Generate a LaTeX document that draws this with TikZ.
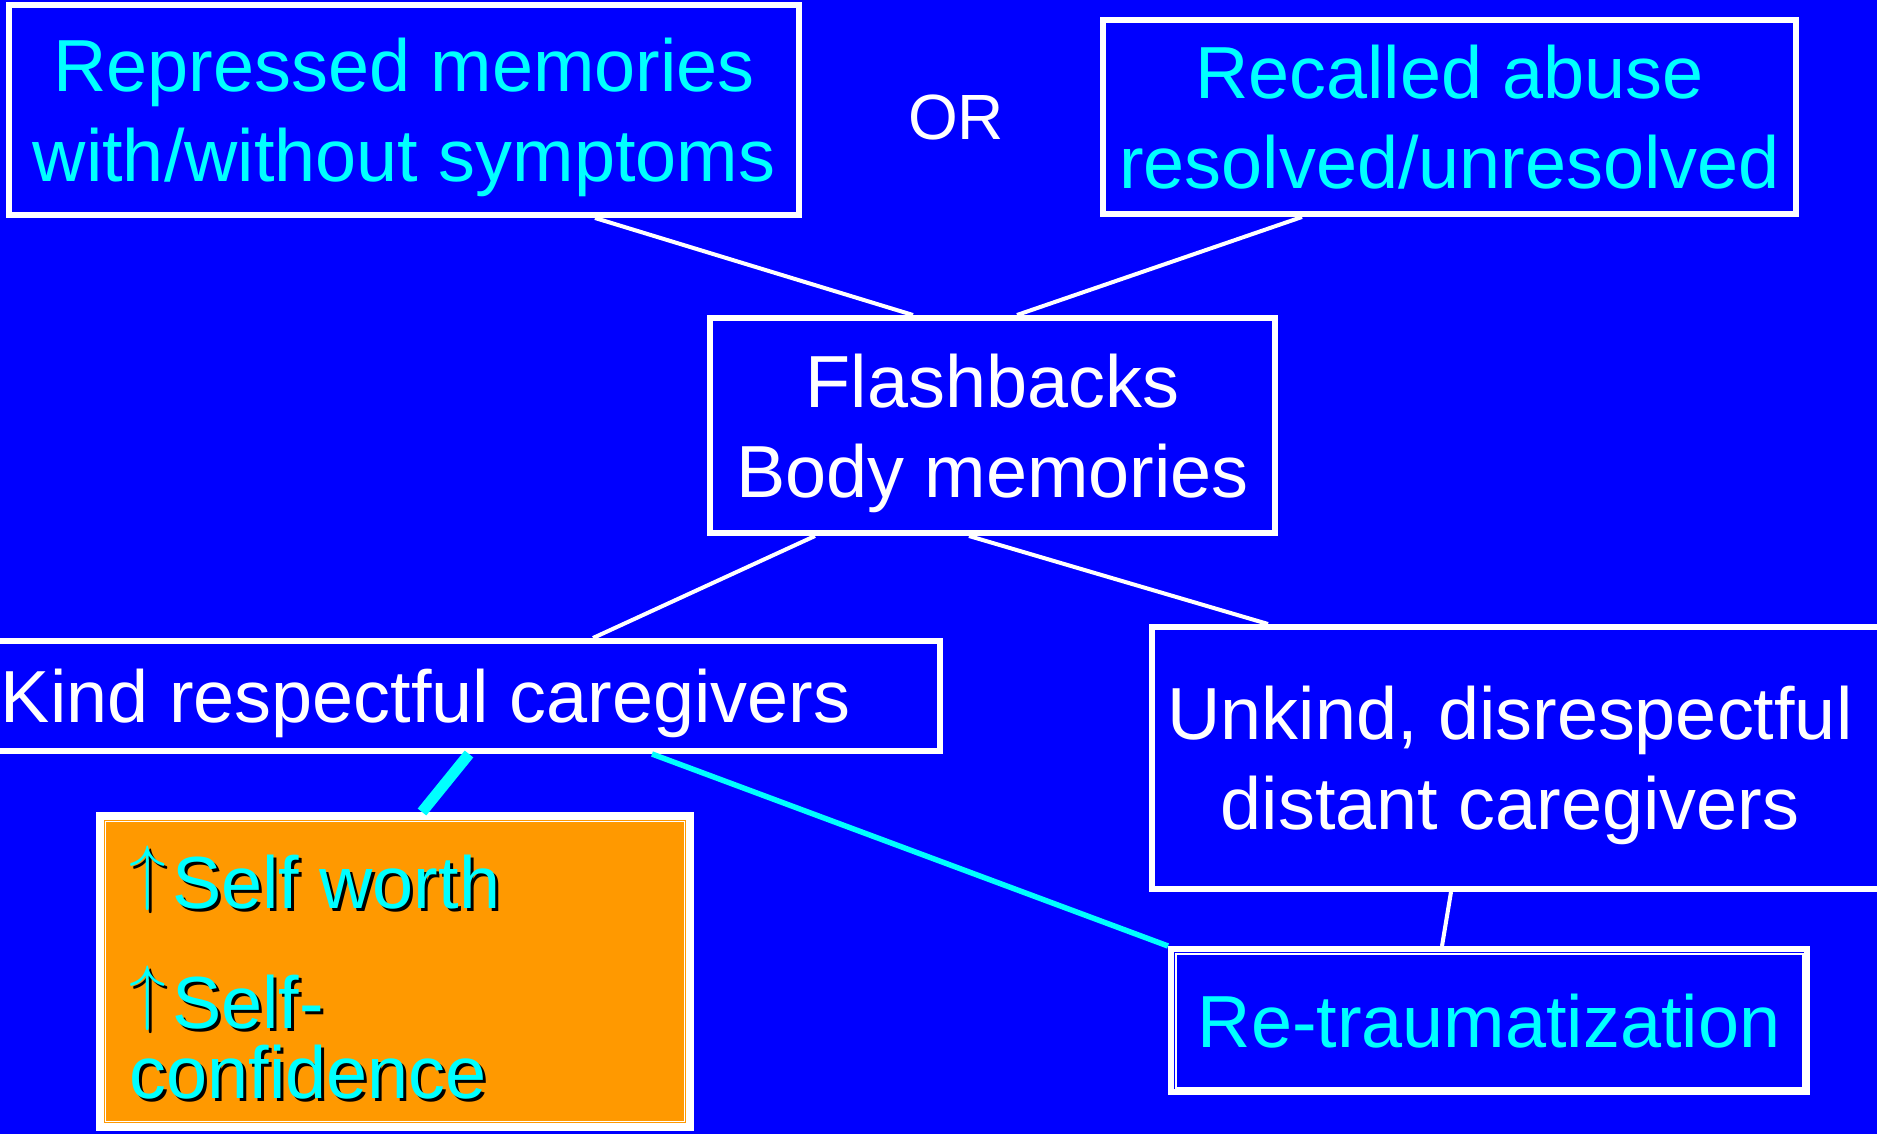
\documentclass[tikz,border=0pt]{standalone}
\usepackage{fontspec}
\setmainfont{Liberation Sans}
\usepackage{tikz}

\definecolor{slideblue}{RGB}{0,0,255}
\definecolor{slidecyan}{RGB}{0,255,255}
\definecolor{slideorange}{RGB}{255,153,0}

\tikzset{
	box/.style={draw=white, line width=0.6mm, fill=slideblue, inner sep=0pt, align=center,
		text depth=0pt, font=\fontsize{21}{25.6}\selectfont},
	link/.style={draw=white, line width=0.4mm},
	glow/.style={draw=slidecyan, line width=0.55mm},
	gain/.style={anchor=base west, inner sep=0pt, font=\fontsize{21}{25.6}\selectfont},
}

% one line of text with its drop shadow: name, x, y, text
\newcommand{\shadowline}[4]{%
	\node[gain, text=black] (#1shade) at ({#2+3},{#3+3}) {#4};
	\node[gain, text=slidecyan] (#1) at (#2,#3) {#4};
}
\newcommand{\upmark}{\raisebox{0.16em}{$\uparrow$}\kern0.08em}

\begin{document}
\begin{tikzpicture}[x=0.1mm, y=-0.1mm]
	\useasboundingbox (0,0) rectangle (1877,1134);
	\fill[slideblue] (0,0) rectangle (1877,1134);

	% top row
	\node[box, text=slidecyan, minimum width=79mm, minimum height=21mm] (repressed) at (404,110)
		{Repressed memories\\with/without symptoms};
	\node[box, text=slidecyan, minimum width=69.3mm, minimum height=19.4mm] (recalled) at (1449.5,117)
		{Recalled abuse\\resolved/unresolved};
	\node[text=white, font=\fontsize{18.2}{22}\selectfont, inner sep=0pt] (or) at (956,117) {OR};

	% middle
	\node[box, text=white, minimum width=56.5mm, minimum height=21.5mm] (flash) at (992.5,425.5)
		{Flashbacks\\Body memories};

	% caregivers
	\node[box, text=white, anchor=west, inner xsep=9mm, minimum height=11mm] (kind) at (-92,696)
		{Kind respectful caregivers};
	\node[box, text=white, minimum width=74mm, minimum height=26.2mm] (unkind) at (1522,758)
		{Unkind, disrespectful\hspace*{2.4mm}\\distant caregivers\hspace*{2.4mm}};

	% outcomes
	\node[box, minimum width=59.2mm, minimum height=31.3mm, fill=slideorange] (gainbox) at (395,971.5) {};
	\draw[white, line width=0.25mm] ([shift={(0.65mm,-0.65mm)}]gainbox.north west) rectangle ([shift={(-0.65mm,0.65mm)}]gainbox.south east);
	\draw[white, line width=0.1mm] ([shift={(0.95mm,-0.95mm)}]gainbox.north west) rectangle ([shift={(-0.95mm,0.95mm)}]gainbox.south east);
	\shadowline{worth}{129}{908}{\upmark Self worth}
	\shadowline{confa}{129}{1028}{\upmark Self-}
	\shadowline{confb}{129}{1098}{confidence}

	\node[box, text=slidecyan, minimum width=63.6mm, minimum height=14.3mm] (retrauma) at (1489,1020.5)
		{Re-traumatization};
	\draw[white, line width=0.2mm] ([shift={(0.75mm,-0.75mm)}]retrauma.north west) rectangle ([shift={(-0.75mm,0.75mm)}]retrauma.south east);

	% connectors
	\draw[link] ([xshift=58.9mm]repressed.south west) -- ([xshift=20.6mm]flash.north west);
	\draw[link] ([xshift=20.2mm]recalled.south west) -- ([xshift=31mm]flash.north west);
	\draw[link] ([xshift=10.8mm]flash.south west) -- ([xshift=68.5mm]kind.north west);
	\draw[link] ([xshift=26.2mm]flash.south west) -- ([xshift=11.9mm]unkind.north west);
	\draw[link] ([xshift=30.2mm]unkind.south west) -- ([xshift=27.4mm]retrauma.north west);
	\draw[glow, line width=1.1mm] ([xshift=56.1mm]kind.south west) -- ([xshift=32.6mm]gainbox.north west);
	\draw[glow] ([xshift=74.4mm]kind.south west) -- (retrauma.north west);
\end{tikzpicture}
\end{document}
